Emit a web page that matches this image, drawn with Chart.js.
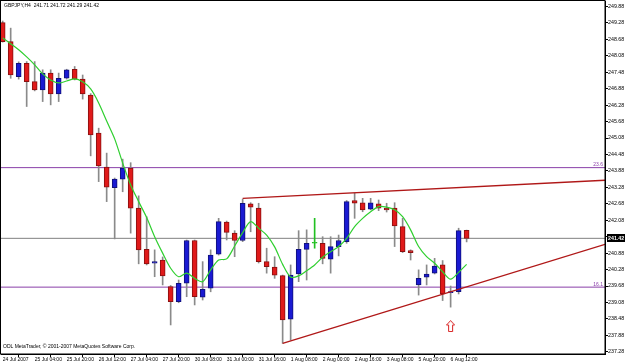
<!DOCTYPE html>
<html><head><meta charset="utf-8">
<script src="https://cdn.jsdelivr.net/npm/chart.js@4.4.1/dist/chart.umd.min.js"></script>
<style>html,body{margin:0;padding:0;background:#fff;overflow:hidden}</style>
</head><body>
<canvas id="c" width="625" height="363"></canvas>
<script>
// ---- data (GBPJPY, H4) ----
const xLabels = ["24 Jul 2007","25 Jul 04:00","25 Jul 20:00","26 Jul 12:00","27 Jul 04:00","27 Jul 20:00","30 Jul 08:00","31 Jul 00:00","31 Jul 16:00","1 Aug 08:00","2 Aug 00:00","2 Aug 16:00","3 Aug 08:00","5 Aug 20:00","6 Aug 12:00"];
const yTicks = [237.28,237.88,238.48,239.08,239.68,240.28,240.88,241.48,242.08,242.68,243.28,243.88,244.48,245.08,245.68,246.28,246.88,247.48,248.08,248.68,249.28,249.88];
const opens  = [249.29,248.60,247.32,247.81,247.14,246.84,247.45,246.69,247.26,247.59,247.23,246.65,245.26,244.02,243.27,243.58,243.98,242.52,241.02,240.51,240.63,239.66,239.11,239.78,241.34,239.27,239.60,240.84,242.01,241.61,241.34,242.68,242.52,240.57,240.37,240.06,238.47,240.12,241.02,241.24,241.24,240.66,241.12,241.30,242.80,242.72,242.48,242.68,242.52,242.52,241.85,240.97,239.72,240.00,240.15,240.45,239.44,239.47,241.71];
const highs  = [249.35,249.09,247.86,247.87,247.87,247.57,247.57,247.45,247.59,247.69,247.38,246.70,245.44,244.53,243.62,244.31,244.18,242.97,242.21,241.00,240.74,239.70,239.90,241.36,241.36,240.57,241.00,242.15,242.05,241.70,242.85,242.72,242.70,241.06,240.75,240.08,240.45,241.70,241.73,242.15,241.48,241.48,241.54,242.80,243.07,242.88,242.88,242.82,242.70,242.72,242.15,241.00,240.27,240.45,240.69,240.61,239.68,241.79,241.72];
const lows   = [248.58,247.26,247.23,246.23,246.80,246.41,246.29,246.41,247.23,247.20,246.50,244.43,243.49,242.76,241.40,243.12,241.61,240.49,240.45,240.02,239.72,238.26,239.07,239.29,238.99,239.17,239.47,240.81,241.36,240.75,241.30,241.66,240.52,240.15,239.96,237.59,237.71,239.84,239.90,241.06,240.49,240.15,240.78,241.24,242.15,242.39,242.46,242.43,242.38,241.12,240.90,240.63,239.35,239.72,240.12,239.15,238.91,239.39,241.29];
const closes = [248.60,247.38,247.81,247.14,246.84,247.45,246.69,247.26,247.57,247.23,246.69,245.19,244.06,243.29,243.58,243.98,242.52,241.00,240.49,240.57,240.05,239.11,239.78,241.34,239.29,239.56,240.81,242.03,241.64,241.34,242.70,242.56,240.57,240.39,240.08,238.44,240.08,241.02,241.24,241.24,240.69,241.12,241.34,242.76,242.70,242.46,242.72,242.52,242.46,241.87,240.93,240.90,239.96,240.12,240.41,239.39,239.47,241.70,241.42];
const maLine = [248.73,248.52,248.30,248.04,247.75,247.42,247.20,247.09,247.16,247.24,247.13,246.87,246.36,245.70,245.05,244.17,243.37,242.76,242.18,241.48,240.88,240.33,240.02,240.15,239.96,239.84,240.27,240.63,240.67,241.14,241.63,242.03,241.79,241.54,241.11,240.47,240.01,240.05,240.24,240.45,240.73,240.93,241.12,241.42,241.85,242.15,242.39,242.58,242.56,242.46,242.21,241.73,241.12,240.75,240.51,240.20,239.93,240.18,240.47];
const upperTrend = [[30,242.88],[75.3,243.54]];
const lowerTrend = [[35,237.59],[75.3,241.20]];
const fibLevels = [244.00,239.64];
const fibNames  = ["23.6","16.1"];
const arrowMark = [56,238.22];
const titleText = "GBPJPY,H4  241.71 241.72 241.29 241.42";
const footText  = "ODL MetaTrader, \u00A9 2001-2007 MetaQuotes Software Corp.";

// ---- view ----
const X_MIN = -0.21, X_MAX = 75.3, Y_MIN = 237.20, Y_MAX = 250.08;
const FONT = "Liberation Sans";

const idx = opens.map((_, i) => i);
const bodyColor = idx.map(i => closes[i] > opens[i] ? '#1a1ad2' : closes[i] < opens[i] ? '#e01a1a' : '#22c022');
const bodyBorder = idx.map(i => closes[i] > opens[i] ? '#10107a' : closes[i] < opens[i] ? '#8a1010' : '#22c022');
const wickColor = idx.map(i => closes[i] === opens[i] ? '#22c022' : '#8a8a8a');

const arrowCanvas = (() => {
  const c = document.createElement('canvas'); c.width = 9; c.height = 12;
  const g = c.getContext('2d');
  g.beginPath();
  g.moveTo(4.5,0.5); g.lineTo(8.5,5); g.lineTo(6.5,5); g.lineTo(6.5,11.5); g.lineTo(2.5,11.5); g.lineTo(2.5,5); g.lineTo(0.5,5); g.closePath();
  g.fillStyle = '#fff'; g.fill(); g.strokeStyle = '#d82020'; g.lineWidth = 1; g.stroke();
  return c;
})();

const hLine = (y) => [{x: X_MIN, y}, {x: X_MAX, y}];
const noPad = s => { s.paddingLeft = 0; s.paddingRight = 0; s.paddingTop = 0; s.paddingBottom = 0; };

const overlay = {
  id: 'overlay',
  afterDraw(chart) {
    const ctx = chart.ctx, a = chart.chartArea, ys = chart.scales.y;
    ctx.save();
    ctx.strokeStyle = '#000'; ctx.lineWidth = 1;
    ctx.strokeRect(a.left - 0.5, a.top - 0.5, a.right - a.left + 0.5, a.bottom - a.top + 0.5);
    ctx.fillStyle = '#000';
    ctx.font = '5px "' + FONT + '"';
    ctx.textBaseline = 'middle'; ctx.textAlign = 'left';
    ctx.fillText(titleText, 4, 6);
    ctx.fillText(footText, 3, 347);
    ctx.fillStyle = '#8a3fa8'; ctx.textAlign = 'right'; ctx.textBaseline = 'bottom';
    fibLevels.forEach((v, i) => ctx.fillText(fibNames[i], a.right - 2, ys.getPixelForValue(v) - 0.5));
    const last = closes[closes.length - 1];
    const py = Math.round(ys.getPixelForValue(last));
    ctx.fillStyle = '#000';
    ctx.fillRect(a.right + 2, py - 4, chart.width - a.right - 2, 8);
    ctx.fillStyle = '#fff'; ctx.textAlign = 'left'; ctx.textBaseline = 'middle';
    ctx.font = 'bold 5.3px "' + FONT + '"';
    ctx.fillText(last.toFixed(2), a.right + 3, py + 0.5);
    ctx.restore();
  }
};

new Chart(document.getElementById('c'), {
  type: 'bar',
  data: {
    datasets: [
      { type: 'line', label: 'fib1', data: hLine(fibLevels[0]), borderColor: '#8a3fa8', borderWidth: 1, pointRadius: 0, pointHoverRadius: 0, order: 20 },
      { type: 'line', label: 'fib2', data: hLine(fibLevels[1]), borderColor: '#8a3fa8', borderWidth: 1, pointRadius: 0, pointHoverRadius: 0, order: 20 },
      { type: 'line', label: 'bid', data: hLine(closes[closes.length - 1]), borderColor: '#808080', borderWidth: 1, pointRadius: 0, pointHoverRadius: 0, order: 20 },
      { label: 'wick', data: idx.map(i => ({x: i, y: [lows[i], highs[i]]})), backgroundColor: wickColor, barThickness: 1, grouped: false, order: 10 },
      { label: 'body', data: idx.map(i => ({x: i, y: [opens[i], closes[i]]})), backgroundColor: bodyColor, borderColor: bodyBorder, borderWidth: 1, borderSkipped: false, minBarLength: 1, barThickness: 5, grouped: false, order: 9 },
      { type: 'line', label: 'ma', data: idx.map(i => ({x: i, y: maLine[i]})), borderColor: '#2fcf2f', borderWidth: 1.2, pointRadius: 0, pointHoverRadius: 0, tension: 0.3, order: 5 },
      { type: 'line', label: 'up', data: upperTrend.map(p => ({x: p[0], y: p[1]})), borderColor: '#b01818', borderWidth: 1.4, pointRadius: 0, pointHoverRadius: 0, order: 4 },
      { type: 'line', label: 'lo', data: lowerTrend.map(p => ({x: p[0], y: p[1]})), borderColor: '#b01818', borderWidth: 1.4, pointRadius: 0, pointHoverRadius: 0, order: 4 },
      { type: 'line', label: 'arrow', data: [{x: arrowMark[0], y: arrowMark[1]}], showLine: false, pointStyle: arrowCanvas, pointRadius: 5, order: 1 }
    ]
  },
  options: {
    responsive: false, animation: false, devicePixelRatio: 1,
    layout: { autoPadding: false, padding: { left: 1, top: 1, right: 0, bottom: 0 } },
    plugins: { legend: { display: false }, tooltip: { enabled: false } },
    scales: {
      x: {
        type: 'linear', min: X_MIN, max: X_MAX, offset: false,
        grid: { drawOnChartArea: false, drawTicks: true, tickLength: 3, color: '#000' },
        border: { color: '#000' },
        afterBuildTicks: s => { s.ticks = xLabels.map((_, k) => ({ value: k * 4 })); },
        afterFit: s => { s.height = 9; noPad(s); },
        ticks: { autoSkip: false, maxRotation: 0, minRotation: 0, align: 'start', padding: 0, color: '#000',
          font: { family: FONT, size: 5 }, callback: (v, i) => xLabels[i] }
      },
      y: {
        position: 'right', min: Y_MIN, max: Y_MAX,
        grid: { drawOnChartArea: false, drawTicks: true, tickLength: 3, color: '#000' },
        border: { color: '#000' },
        afterBuildTicks: s => { s.ticks = yTicks.map(v => ({ value: v })); },
        afterFit: s => { s.width = 20; noPad(s); },
        ticks: { autoSkip: false, padding: 0, color: '#000', font: { family: FONT, size: 5.3 },
          callback: v => Number(v).toFixed(2) }
      }
    }
  },
  plugins: [overlay]
});
</script>
</body></html>
